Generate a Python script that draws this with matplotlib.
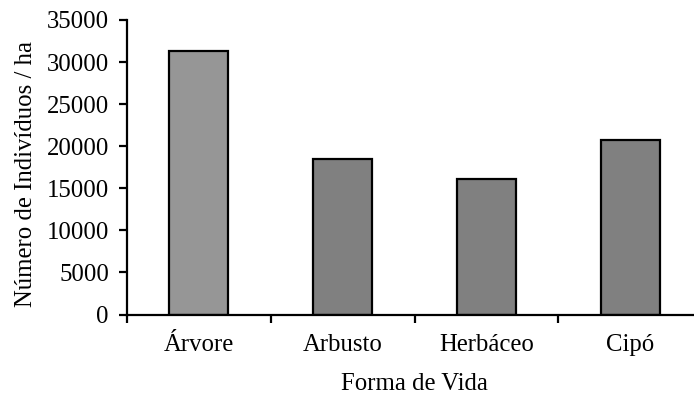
import matplotlib
matplotlib.use("Agg")
import matplotlib.pyplot as plt
import numpy as np

categories = ["Árvore", "Arbusto", "Herbáceo", "Cipó"]
values = [31350, 18500, 16100, 20700]
bar_colors = ["#969696", "#808080", "#808080", "#808080"]
yticks = [0, 5000, 10000, 15000, 20000, 25000, 30000, 35000]

plt.rcParams["font.family"] = ["Liberation Serif", "DejaVu Serif"]

fig = plt.figure(figsize=(6.94, 4.09), dpi=100)
W, H = 694, 409
left, right, top, bottom = 127, 702, 20, 314.5
ax = fig.add_axes([left / W, 1 - bottom / H, (right - left) / W, (bottom - top) / H])

x = np.arange(len(categories))
ax.bar(x, values, width=0.41, color=bar_colors, edgecolor="black", linewidth=1.6, zorder=3)

fs = 17.8
ax.set_xlim(-0.5, len(categories) - 0.5)
ax.set_ylim(0, 35000)
ax.set_yticks(yticks)
ax.set_yticklabels([str(v) for v in yticks])
ax.set_xticks(x)
ax.set_xticklabels(categories)
ax.set_xticks(np.arange(len(categories) + 1) - 0.5, minor=True)
ax.tick_params(axis="x", which="major", length=0, pad=14, labelsize=fs)
ax.tick_params(axis="x", which="minor", length=6, width=1.6, direction="out")
ax.tick_params(axis="y", which="major", length=6, width=1.6, direction="out", pad=7, labelsize=fs)

for s in ["top", "right"]:
    ax.spines[s].set_visible(False)
for s in ["left", "bottom"]:
    ax.spines[s].set_linewidth(1.6)
ax.spines["bottom"].set_zorder(4)

ax.set_xlabel("Forma de Vida", fontsize=fs, labelpad=12)
ax.set_ylabel("Número de Indivíduos / ha", fontsize=fs)
ax.yaxis.set_label_coords(-0.157, 0.477)

fig.savefig("out.png", dpi=100)
